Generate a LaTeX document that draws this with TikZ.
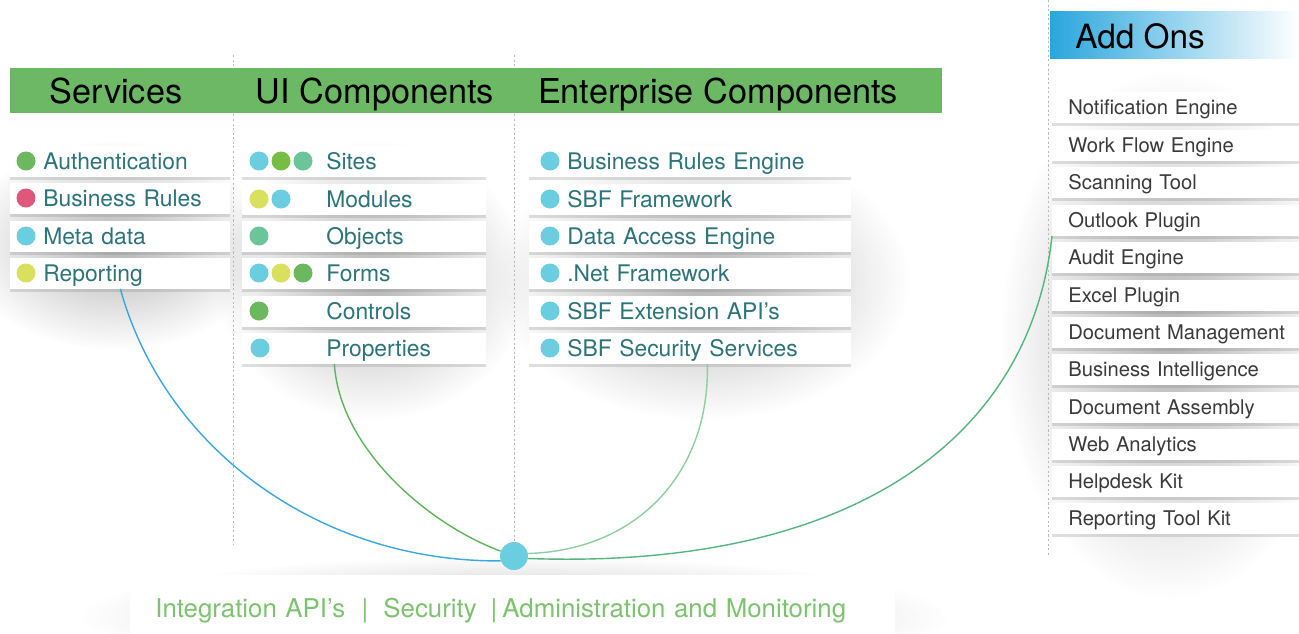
\documentclass[tikz,border=0pt]{standalone}
\usepackage{fontspec}
\setmainfont{TeX Gyre Heros}
\usetikzlibrary{shadows,fadings}

\definecolor{hdr}{HTML}{6CB865}
\definecolor{tealtext}{HTML}{2C7479}
\definecolor{addtext}{HTML}{3A3A3A}
\definecolor{addblue}{HTML}{2AA6DD}
\definecolor{botgreen}{HTML}{7DC36F}
\definecolor{dcyan}{HTML}{6BCDE0}
\definecolor{dgreen}{HTML}{6BB85F}
\definecolor{dlime}{HTML}{77BD43}
\definecolor{dmint}{HTML}{6CC59A}
\definecolor{dyellow}{HTML}{D8E05E}
\definecolor{dpink}{HTML}{E0577C}
\definecolor{lblue}{HTML}{3AA8E0}
\definecolor{lgreen}{HTML}{5DB55A}
\definecolor{lpale}{HTML}{8DCF9E}
\definecolor{lsea}{HTML}{55B57F}

\tikzfading[name=glow, inner color=transparent!35, outer color=transparent!100]

\tikzset{
  head/.style={font=\fontsize{19.5}{23}\selectfont, text=black, inner sep=0pt},
  item/.style={fill=white, anchor=west, inner xsep=0pt, inner ysep=0pt,
    minimum height=0.62cm, align=left, text=tealtext,
    font=\fontsize{13}{15}\selectfont, text height=9.4pt, text depth=0pt,
    drop shadow={shadow xshift=0pt, shadow yshift=-1.8pt, opacity=0.25}},
  svc/.style={item, text width=4.4cm},
  ui/.style={item, text width=4.88cm},
  ent/.style={item, text width=6.44cm},
  addon/.style={item, text width=5cm, text=addtext,
    font=\fontsize{11.5}{14}\selectfont, text height=8.3pt},
  sep/.style={gray!55, line width=0.5pt, dash pattern=on 1.2pt off 1.4pt},
  link/.style={line width=0.8pt}
}

\begin{document}
\begin{tikzpicture}[x=0.02cm, y=-0.02cm]
  \useasboundingbox (0,0) rectangle (1299,633);

  % soft shadows behind the lists
  \fill[black!45, path fading=glow] (-40,140) rectangle (270,350);
  \fill[black!45, path fading=glow] (215,140) rectangle (530,420);
  \fill[black!45, path fading=glow] (495,140) rectangle (910,420);
  \fill[black!45, path fading=glow] (1000,70) rectangle (1340,600);
  \fill[black!40, path fading=glow] (80,555) rectangle (950,680);

  \draw[sep] (233,55) -- (233,545) (514,55) -- (514,543) (1048,0) -- (1048,555);

  \fill[hdr] (10,68) rectangle (942,113);
  \node[head, anchor=base] (HS) at (116,103) {Services};
  \node[head, anchor=base] (HU) at (375,103) {UI Components};
  \node[head, anchor=base] (HE) at (718,103) {Enterprise Components};

  \shade[left color=addblue, right color=white] (1050,11) rectangle (1299,58);
  \node[head, anchor=base west, font=\fontsize{19}{23}\selectfont] (HA) at (1075,48) {Add Ons};

  \node[svc] (S1) at (10,161) {\hspace*{0.66cm}Authentication};
  \node[svc] (S2) at (10,198) {\hspace*{0.66cm}Business Rules};
  \node[svc] (S3) at (10,236) {\hspace*{0.66cm}Meta data};
  \node[svc] (S4) at (10,273) {\hspace*{0.66cm}Reporting};

  \node[ui] (U1) at (242,161) {\hspace*{1.68cm}Sites};
  \node[ui] (U2) at (242,199) {\hspace*{1.68cm}Modules};
  \node[ui] (U3) at (242,236) {\hspace*{1.68cm}Objects};
  \node[ui] (U4) at (242,273) {\hspace*{1.68cm}Forms};
  \node[ui] (U5) at (242,311) {\hspace*{1.68cm}Controls};
  \node[ui] (U6) at (242,348) {\hspace*{1.68cm}Properties};

  \node[ent] (E1) at (529,161) {\hspace*{0.76cm}Business Rules Engine};
  \node[ent] (E2) at (529,199) {\hspace*{0.76cm}SBF Framework};
  \node[ent] (E3) at (529,236) {\hspace*{0.76cm}Data Access Engine};
  \node[ent] (E4) at (529,273) {\hspace*{0.76cm}.Net Framework};
  \node[ent] (E5) at (529,311) {\hspace*{0.76cm}SBF Extension API’s};
  \node[ent] (E6) at (529,348) {\hspace*{0.76cm}SBF Security Services};

  \node[addon] (A1)  at (1052,107) {\hspace*{0.32cm}Notification Engine};
  \node[addon] (A2)  at (1052,145) {\hspace*{0.32cm}Work Flow Engine};
  \node[addon] (A3)  at (1052,182) {\hspace*{0.32cm}Scanning Tool};
  \node[addon] (A4)  at (1052,220) {\hspace*{0.32cm}Outlook Plugin};
  \node[addon] (A5)  at (1052,257) {\hspace*{0.32cm}Audit Engine};
  \node[addon] (A6)  at (1052,295) {\hspace*{0.32cm}Excel Plugin};
  \node[addon] (A7)  at (1052,332) {\hspace*{0.32cm}Document Management};
  \node[addon] (A8)  at (1052,369) {\hspace*{0.32cm}Business Intelligence};
  \node[addon] (A9)  at (1052,407) {\hspace*{0.32cm}Document Assembly};
  \node[addon] (A10) at (1052,444) {\hspace*{0.32cm}Web Analytics};
  \node[addon] (A11) at (1052,481) {\hspace*{0.32cm}Helpdesk Kit};
  \node[addon] (A12) at (1052,518) {\hspace*{0.32cm}Reporting Tool Kit};

  % dots
  \fill[dgreen]  (26,161) circle (9.5);
  \fill[dpink]   (26,198) circle (9.5);
  \fill[dcyan]   (26,236) circle (9.5);
  \fill[dyellow] (26,273) circle (9.5);

  \fill[dcyan] (259,161) circle (9.5); \fill[dlime] (281,161) circle (9.5); \fill[dmint] (303,161) circle (9.5);
  \fill[dyellow] (259,199) circle (9.5); \fill[dcyan] (281,199) circle (9.5);
  \fill[dmint] (259,236) circle (9.5);
  \fill[dcyan] (259,273) circle (9.5); \fill[dyellow] (281,273) circle (9.5); \fill[dgreen] (303,273) circle (9.5);
  \fill[dgreen] (259,311) circle (9.5);
  \fill[dcyan] (260,348) circle (9.5);

  \fill[dcyan] (550,161) circle (9.5);
  \fill[dcyan] (550,199) circle (9.5);
  \fill[dcyan] (550,236) circle (9.5);
  \fill[dcyan] (550,273) circle (9.5);
  \fill[dcyan] (550,311) circle (9.5);
  \fill[dcyan] (550,348) circle (9.5);

  \node[fill=white, anchor=north west, inner xsep=0pt, text width=15.3cm, minimum height=1.4cm,
    align=left, text=botgreen, font=\fontsize{14.7}{17}\selectfont,
    drop shadow={shadow xshift=0pt, shadow yshift=0pt, opacity=0.15}] (B) at (130,575)
    {\hspace*{0.5cm}Integration API’s\hspace{0.33cm}|\hspace{0.3cm}Security\hspace{0.28cm}|\hspace{0.1cm}Administration and Monitoring};

  \node[circle, fill=dcyan, minimum size=0.56cm, inner sep=0pt] (H) at (514,556) {};

  \draw[link, lblue]  (S4.south) .. controls (165,450) and (320,562) .. (H.200);
  \draw[link, lgreen] ([xshift=-0.6cm]U6.south) .. controls (340,450) and (430,525) .. (H.160);
  \draw[link, lpale]  ([xshift=0.34cm]E6.south) .. controls (710,470) and (640,550) .. (H.10);
  \draw[link, lsea]   (A4.south west) .. controls (1030,440) and (850,570) .. (H.-10);
\end{tikzpicture}
\end{document}
